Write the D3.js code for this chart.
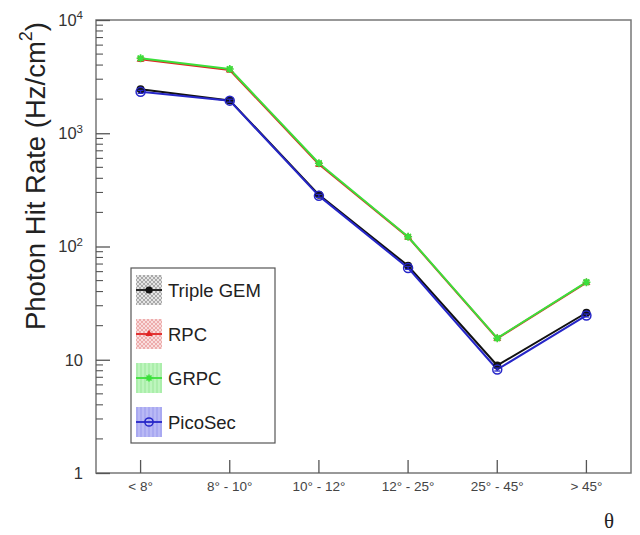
<!DOCTYPE html>
<html><head><meta charset="utf-8">
<script src="https://cdn.jsdelivr.net/npm/d3@7"></script>
<style>body{margin:0;background:#fff}</style>
</head><body><svg id="c" width="640" height="535"></svg>
<script>
const categories = ["< 8°","8° - 10°","10° - 12°","12° - 25°","25° - 45°","> 45°"];
const tripleGEM = [2450,1950,286,67.5,8.9,26];
const rpc       = [4500,3620,532,121,15.4,48];
const grpc      = [4590,3690,544,122,15.5,48.4];
const picoSec   = [2320,1940,280,64.7,8.2,24.6];
const yTickValues = [1,10,100,1000,10000];
const yTickBase = ["1","10","10","10","10"];
const yTickExp  = ["","","2","3","4"];
const seriesNames = ["Triple GEM","RPC","GRPC","PicoSec"];
const relError = [0.03,0.04,0.04,0.03];

const series = [
  {name:seriesNames[0], values:tripleGEM, color:"#111111", marker:"dot",  pat:"pGray", err:relError[0]},
  {name:seriesNames[1], values:rpc,       color:"#e02424", marker:"tri",  pat:"pRed",  err:relError[1]},
  {name:seriesNames[2], values:grpc,      color:"#3be03b", marker:"star", pat:"pGreen",err:relError[2]},
  {name:seriesNames[3], values:picoSec,   color:"#2626c8", marker:"open", pat:"pBlue", err:relError[3]}
];

const svg = d3.select("#c");
const L=96,R=631,T=20,B=473;
const x = d3.scaleBand().domain(categories).range([L,R]);
const cx = c => x(c)+x.bandwidth()/2;
const y = d3.scaleLog().domain([1,1e4]).range([B,T]);

// patterns
const defs = svg.append("defs");
function pat(id,bg,fg,kind){
  const p = defs.append("pattern").attr("id",id).attr("patternUnits","userSpaceOnUse").attr("width",4).attr("height",4);
  p.append("rect").attr("width",4).attr("height",4).attr("fill",bg);
  if(kind==="cross"){
    p.append("path").attr("d","M0,0L4,4M4,0L0,4").attr("stroke",fg).attr("stroke-width",0.8);
  } else {
    p.append("path").attr("d","M1,0L1,4").attr("stroke",fg).attr("stroke-width",1);
  }
}
pat("pGray","#e4e4e4","#9a9a9a","cross");
pat("pRed","#f9dcdc","#eaa0a0","cross");
pat("pGreen","#bdf5bd","#99e899","vert");
pat("pBlue","#b9b9f5","#9a9aee","vert");

// frame
svg.append("rect").attr("x",L).attr("y",T).attr("width",R-L).attr("height",B-T)
  .attr("fill","none").attr("stroke","#777").attr("stroke-width",1.5);

// x axis
const xa = svg.append("g").attr("transform",`translate(0,${B})`)
  .call(d3.axisBottom(x).tickSizeInner(-13).tickSizeOuter(0).tickPadding(8));
xa.select(".domain").remove();
xa.selectAll(".tick line").attr("stroke","#555").attr("stroke-width",1.3);
xa.selectAll(".tick text").attr("font-family","Liberation Sans, Arial, sans-serif").attr("font-size",13.5).attr("fill","#444");

// y axis
const ya = svg.append("g").attr("transform",`translate(${L},0)`)
  .call(d3.axisLeft(y).tickValues(yTickValues).tickSizeInner(-14).tickSizeOuter(0).tickPadding(13).tickFormat(""));
ya.select(".domain").remove();
ya.selectAll(".tick line").attr("stroke","#555").attr("stroke-width",1.3);
ya.selectAll(".tick text").each(function(d,i){
  const t = d3.select(this).attr("font-family","Liberation Sans, Arial, sans-serif").attr("font-size",16.5).attr("fill","#333");
  t.text(null);
  t.append("tspan").text(yTickBase[i]);
  if(yTickExp[i]) t.append("tspan").attr("font-size",11.5).attr("dy","-0.55em").text(yTickExp[i]);
});
// minor ticks
const minors=[];
for(let k=0;k<4;k++) for(let m=2;m<=9;m++) minors.push(m*Math.pow(10,k));
svg.append("g").selectAll("line").data(minors).join("line")
  .attr("x1",L).attr("x2",L+7).attr("y1",d=>y(d)).attr("y2",d=>y(d))
  .attr("stroke","#555").attr("stroke-width",1.1);

// y label
svg.append("text").attr("transform","translate(45,176) rotate(-90)")
  .attr("text-anchor","middle").attr("font-family","Liberation Sans, Arial, sans-serif")
  .attr("font-size",27.5).attr("fill","#222")
  .call(t=>{t.append("tspan").text("Photon Hit Rate (Hz/cm");
            t.append("tspan").attr("font-size",18).attr("dy","-0.7em").text("2");
            t.append("tspan").attr("dy","0.45em").text(")");});

// theta
svg.append("text").attr("x",609).attr("y",528).attr("text-anchor","middle")
  .attr("font-family","Liberation Serif, Times New Roman, serif").attr("font-size",21).attr("fill","#222").text("θ");

// lines
const line = d3.line().x((d,i)=>cx(categories[i])).y(d=>y(d));
series.forEach(s=>{
  svg.append("path").datum(s.values).attr("d",line).attr("fill","none")
    .attr("stroke",s.color).attr("stroke-width",2).attr("stroke-linejoin","round");
});

function drawMarker(g,s,px,py,scale){
  const r = 4*scale;
  if(s.marker==="dot") g.append("circle").attr("cx",px).attr("cy",py).attr("r",r).attr("fill",s.color);
  else if(s.marker==="open") g.append("circle").attr("cx",px).attr("cy",py).attr("r",r+0.5).attr("fill","none").attr("stroke",s.color).attr("stroke-width",1.5);
  else if(s.marker==="tri") g.append("path").attr("transform",`translate(${px},${py})`).attr("d",d3.symbol(d3.symbolTriangle,28*scale*scale)()).attr("fill",s.color);
  else g.append("path").attr("transform",`translate(${px},${py})`).attr("d",`M-${r},0L${r},0M0,-${r}L0,${r}M-${r*0.7},-${r*0.7}L${r*0.7},${r*0.7}M${r*0.7},-${r*0.7}L-${r*0.7},${r*0.7}`).attr("stroke",s.color).attr("stroke-width",1.6);
}

// error bars + markers
series.forEach(s=>{
  const g = svg.append("g");
  s.values.forEach((v,i)=>{
    const px = cx(categories[i]);
    const y1 = y(v*(1+s.err)), y2 = y(v*(1-s.err));
    g.append("line").attr("x1",px).attr("x2",px).attr("y1",y1).attr("y2",y2).attr("stroke",s.color).attr("stroke-width",1.3);
    [y1,y2].forEach(yy=>g.append("line").attr("x1",px-3).attr("x2",px+3).attr("y1",yy).attr("y2",yy).attr("stroke",s.color).attr("stroke-width",1.3));
    drawMarker(g,s,px,y(v),1);
  });
});

// legend
const lg = svg.append("g");
lg.append("rect").attr("x",131).attr("y",268).attr("width",144).attr("height",175)
  .attr("fill","#fff").attr("stroke","#555").attr("stroke-width",1.2);
series.forEach((s,i)=>{
  const cy = 290+i*44;
  lg.append("rect").attr("x",136).attr("y",cy-15).attr("width",26).attr("height",30).attr("fill",`url(#${s.pat})`);
  lg.append("line").attr("x1",136).attr("x2",162).attr("y1",cy).attr("y2",cy).attr("stroke",s.color).attr("stroke-width",1.8);
  drawMarker(lg,s,149,cy,0.9);
  lg.append("text").attr("x",168).attr("y",cy).attr("dy","0.36em")
    .attr("font-family","Liberation Sans, Arial, sans-serif").attr("font-size",18.5).attr("fill","#222").text(s.name);
});
</script></body></html>
